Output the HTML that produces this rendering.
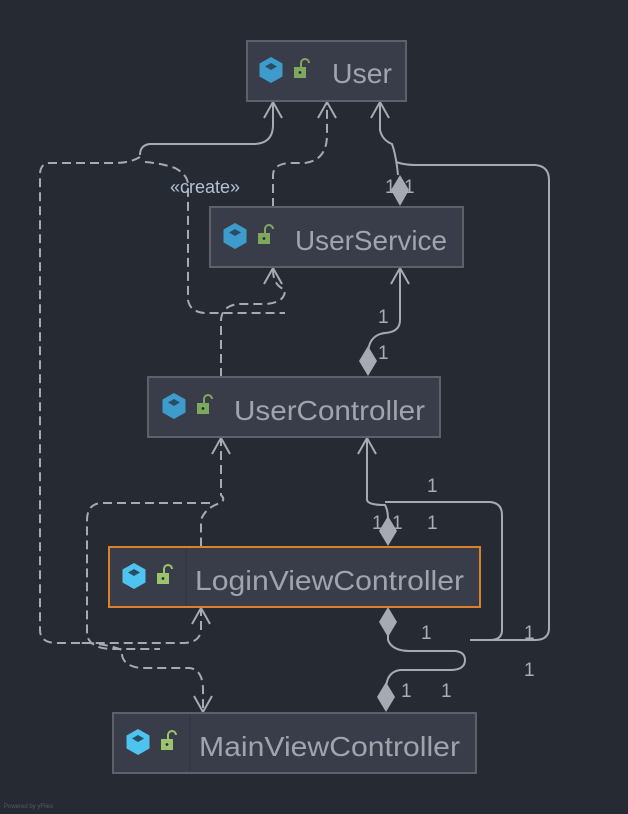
<!DOCTYPE html>
<html><head><meta charset="utf-8"><style>
html,body{margin:0;padding:0;background:#262a33;}
svg{display:block}
text{font-family:"Liberation Sans",sans-serif;}
</style></head><body>
<svg width="628" height="814" viewBox="0 0 628 814" xmlns="http://www.w3.org/2000/svg">
<rect width="628" height="814" fill="#262a33"/>
<defs>
<g id="ic1">
<polygon points="0,-13 11.5,-6.5 11.5,6.5 0,13 -11.5,6.5 -11.5,-6.5" fill="#3d9ccc"/>
<polygon points="0,-7 6,-3.5 0,0 -6,-3.5" fill="#2a4d66"/>
<rect x="23" y="-3" width="12" height="11" fill="#7fa85f"/>
<path d="M30,-3 v-4 a4,4 0 0 1 8,0" fill="none" stroke="#7fa85f" stroke-width="2"/>
<circle cx="29" cy="2.5" r="1.4" fill="#262a33"/>
</g>
<g id="ic2">
<polygon points="0,-13 11.5,-6.5 11.5,6.5 0,13 -11.5,6.5 -11.5,-6.5" fill="#4fc3f0"/>
<polygon points="0,-7 6,-3.5 0,0 -6,-3.5" fill="#2a4d66"/>
<rect x="23" y="-3" width="12" height="11" fill="#9cc46f"/>
<path d="M30,-3 v-4 a4,4 0 0 1 8,0" fill="none" stroke="#9cc46f" stroke-width="2"/>
<circle cx="29" cy="2.5" r="1.4" fill="#262a33"/>
</g>
</defs>

<g fill="none" stroke="#a6aab3" stroke-width="2">
<path d="M273,101 V125 Q273,143 255,144 H150 Q140,145 140,155"/>
<path stroke-dasharray="9,5" d="M140,157 Q130,163 115,163 H50 Q40,163 40,175 V630 Q40,642 55,643 H90 Q110,645 122,650 Q120,665 140,668 H190 Q203,670 203,690 V712"/>
<path stroke-dasharray="9,5" d="M145,162 Q160,163 175,168 Q188,175 188,185 V300 Q190,312 205,313 H285"/>
<path stroke-dasharray="9,5" d="M221,377 V320 Q222,305 240,304 H265 Q285,303 285,290 Q273,285 273,270"/>
<path stroke-dasharray="9,5" d="M273,207 V175 Q273,164 290,163 H305 Q327,160 327,135 V103"/>
<path d="M380,101 V130 Q382,140 392,144 Q396,155 398,175"/>
<path d="M396,162 Q405,165 415,165 H535 Q549,166 549,180 V628 Q549,640 535,640 H470"/>
<path d="M400,267 V320 Q400,332 385,333 Q368,335 368,355"/>
<path d="M367,437 V500 Q368,505 385,505 Q388,510 388,520"/>
<path d="M385,502 H490 Q502,503 502,515 V630 Q502,640 490,640"/>
<path d="M388,633 V640 Q392,651 410,651 H455 Q465,652 465,660 Q465,670 450,670 H400 Q386,672 386,690"/>
<path stroke-dasharray="9,5" d="M221,437 V495 Q226,500 220,503 Q205,508 201,520 V547"/>
<path stroke-dasharray="9,5" d="M210,503 H100 Q87,505 87,520 V635 Q90,648 110,649 H160"/>
<path stroke-dasharray="9,5" d="M201,607 V630 Q200,642 185,643 H80"/>
</g>
<g fill="none" stroke="#a6aab3" stroke-width="2">
<path d="M264,118 L273,102 L282,118"/>
<path d="M318,118 L327,102 L336,118"/>
<path d="M371,118 L380,102 L389,118"/>
<path d="M264,284 L273,268 L282,284"/>
<path d="M391,284 L400,268 L409,284"/>
<path d="M212,454 L221,438 L230,454"/>
<path d="M358,454 L367,438 L376,454"/>
<path d="M192,624 L201,608 L210,624"/>
<path d="M194,696 L203,712 L212,696"/>
</g>
<g fill="#a6aab3">
<polygon points="400,175 409,190 400,206 391,190"/>
<polygon points="368,346 377,361 368,376 359,361"/>
<polygon points="388,516 397,531 388,546 379,531"/>
<polygon points="388,607 397,622 388,637 379,622"/>
<polygon points="386,682 395,697 386,712 377,697"/>
</g>
<g fill="#a9adb6" font-size="19">
<text x="170" y="193" fill="#b3c2d6" font-size="18">«create»</text>
<text x="385" y="193">1</text><text x="404" y="193">1</text>
<text x="378" y="323">1</text><text x="378" y="359">1</text>
<text x="427" y="492">1</text>
<text x="372" y="529">1</text><text x="392" y="529">1</text><text x="427" y="529">1</text>
<text x="421" y="639">1</text><text x="524" y="639">1</text>
<text x="524" y="676">1</text>
<text x="401" y="697">1</text><text x="441" y="697">1</text>
</g>
<g stroke="#5e6168" stroke-width="2" fill="#393d49">
<rect x="247" y="41" width="159" height="60"/>
<rect x="210" y="207" width="253" height="60"/>
<rect x="148" y="377" width="292" height="60"/>
<rect x="109" y="547" width="371" height="60" stroke="#d9822b"/>
<rect x="113" y="713" width="363" height="60"/>
</g>
<line x1="186" y1="548" x2="186" y2="606" stroke="#30343e" stroke-width="1"/>
<line x1="190" y1="714" x2="190" y2="772" stroke="#30343e" stroke-width="1"/>
<use href="#ic1" x="271" y="70"/>
<use href="#ic1" x="235" y="236"/>
<use href="#ic1" x="174" y="406"/>
<use href="#ic2" x="134" y="576"/>
<use href="#ic2" x="138" y="742"/>
<g fill="#a0a4ad" font-size="28">
<text x="332" y="83" textLength="60" lengthAdjust="spacingAndGlyphs">User</text>
<text x="295" y="250" textLength="152" lengthAdjust="spacingAndGlyphs">UserService</text>
<text x="234" y="420" textLength="191" lengthAdjust="spacingAndGlyphs">UserController</text>
<text x="195" y="590" textLength="269" lengthAdjust="spacingAndGlyphs">LoginViewController</text>
<text x="199" y="756" textLength="261" lengthAdjust="spacingAndGlyphs">MainViewController</text>
</g>
<text x="4" y="808" fill="#555a63" font-size="6">Powered by yFiles</text>
</svg>
</body></html>
